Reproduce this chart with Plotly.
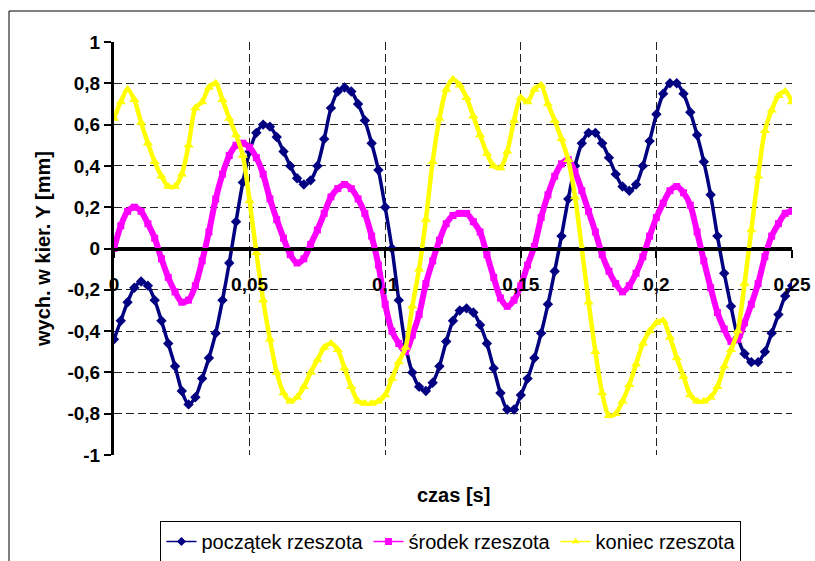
import plotly.graph_objects as go

# time axis (s), sampled every 2.5 ms
t = [round(i * 0.0025, 4) for i in range(101)]

poczatek = [
    -0.44, -0.35, -0.26, -0.19, -0.16, -0.18, -0.25, -0.35, -0.46, -0.57,
    -0.69, -0.755, -0.72, -0.63, -0.53, -0.41, -0.25, -0.07, 0.13, 0.32,
    0.47, 0.56, 0.60, 0.59, 0.54, 0.47, 0.40, 0.34, 0.31, 0.33,
    0.40, 0.53, 0.68, 0.76, 0.78, 0.76, 0.70, 0.62, 0.51, 0.38,
    0.20, 0.00, -0.25, -0.47, -0.60, -0.67, -0.69, -0.65, -0.57, -0.45,
    -0.35, -0.30, -0.29, -0.31, -0.37, -0.46, -0.58, -0.70, -0.78, -0.78,
    -0.71, -0.63, -0.53, -0.41, -0.27, -0.11, 0.06, 0.24, 0.40, 0.51,
    0.56, 0.56, 0.51, 0.44, 0.36, 0.30, 0.28, 0.31, 0.40, 0.52,
    0.65, 0.75, 0.80, 0.80, 0.75, 0.66, 0.55, 0.42, 0.26, 0.06,
    -0.12, -0.28, -0.43, -0.51, -0.55, -0.55, -0.50, -0.41, -0.32, -0.23,
    -0.18,
]

srodek = [
    0.00, 0.11, 0.18, 0.20, 0.18, 0.12, 0.05, -0.05, -0.14, -0.21,
    -0.26, -0.25, -0.18, -0.06, 0.08, 0.24, 0.36, 0.45, 0.50, 0.51,
    0.49, 0.44, 0.36, 0.24, 0.14, 0.05, -0.03, -0.07, -0.05, 0.02,
    0.09, 0.17, 0.25, 0.29, 0.31, 0.29, 0.24, 0.17, 0.06, -0.08,
    -0.27, -0.40, -0.46, -0.50, -0.42, -0.32, -0.17, -0.06, 0.04, 0.12,
    0.16, 0.17, 0.17, 0.13, 0.08, -0.03, -0.14, -0.24, -0.28, -0.25,
    -0.18, -0.08, 0.01, 0.15, 0.26, 0.35, 0.41, 0.43, 0.37, 0.28,
    0.18, 0.08, -0.03, -0.11, -0.17, -0.21, -0.18, -0.12, -0.04, 0.06,
    0.15, 0.22, 0.28, 0.30, 0.27, 0.21, 0.08, -0.06, -0.19, -0.31,
    -0.39, -0.45, -0.44, -0.36, -0.27, -0.17, -0.04, 0.06, 0.12, 0.17,
    0.18,
]

koniec = [
    0.63, 0.71, 0.77, 0.72, 0.61, 0.51, 0.42, 0.35, 0.30, 0.30,
    0.36, 0.50, 0.68, 0.71, 0.78, 0.80, 0.72, 0.63, 0.55, 0.45,
    0.23, -0.02, -0.25, -0.44, -0.60, -0.70, -0.74, -0.72, -0.67, -0.60,
    -0.54, -0.48, -0.46, -0.49, -0.58, -0.67, -0.74, -0.75, -0.75, -0.74,
    -0.71, -0.63, -0.55, -0.48, -0.28, -0.10, 0.14, 0.42, 0.63, 0.77,
    0.82, 0.79, 0.73, 0.64, 0.55, 0.46, 0.40, 0.39, 0.47, 0.62,
    0.73, 0.71, 0.77, 0.79, 0.70, 0.62, 0.53, 0.43, 0.25, 0.00,
    -0.26, -0.50, -0.70, -0.81, -0.80, -0.74, -0.66, -0.56, -0.46, -0.40,
    -0.36, -0.35, -0.43, -0.53, -0.62, -0.71, -0.74, -0.74, -0.72, -0.67,
    -0.57, -0.49, -0.40, -0.17, 0.09, 0.35, 0.57, 0.67, 0.74, 0.76,
    0.71,
]

x_ticks = [0, 0.05, 0.1, 0.15, 0.2, 0.25]
x_ticktext = ["0", "0,05", "0,1", "0,15", "0,2", "0,25"]
y_ticks = [-1, -0.8, -0.6, -0.4, -0.2, 0, 0.2, 0.4, 0.6, 0.8, 1]
y_ticktext = ["-1", "-0,8", "-0,6", "-0,4", "-0,2", "0", "0,2", "0,4", "0,6", "0,8", "1"]

# name, values, colour, marker symbol, marker size, line width in plot
series = [
    ("początek rzeszota", poczatek, "#000080", "diamond", 8, 3.5),
    ("środek rzeszota", srodek, "#FF00FF", "square", 7, 6),
    ("koniec rzeszota", koniec, "#FFFF00", "triangle-up", 9, 4.5),
]

fig = go.Figure()
for name, vals, col, sym, msize, lw in series:
    fig.add_trace(go.Scatter(
        x=t, y=vals, name=name, mode="lines+markers", showlegend=False,
        line=dict(color=col, width=lw, shape="spline", smoothing=0.8),
        marker=dict(symbol=sym, size=msize, color=col, line=dict(width=0)),
    ))
# legend entries (thin line with marker, as in the original legend)
for name, vals, col, sym, msize, lw in series:
    fig.add_trace(go.Scatter(
        x=[None], y=[None], name=name, mode="lines+markers", showlegend=True,
        line=dict(color=col, width=1.5),
        marker=dict(symbol=sym, size=7, color=col, line=dict(width=0)),
    ))

FONT = "Liberation Sans, Arial, sans-serif"
W, H = 815, 561
ml, mr, mt, mb = 114, 23, 42, 106
pw, ph = W - ml - mr, H - mt - mb

def px_x(p):
    return (p - ml) / pw

def px_y(p):
    return (H - mb - p) / ph

fig.update_layout(
    width=W, height=H,
    margin=dict(l=ml, r=mr, t=mt, b=mb, pad=0, autoexpand=False),
    paper_bgcolor="white", plot_bgcolor="white",
    font=dict(family=FONT, color="black"),
    showlegend=True,
    legend=dict(
        orientation="h", x=0.497, xanchor="center", y=px_y(562), yanchor="bottom",
        bordercolor="black", borderwidth=1, bgcolor="white",
        font=dict(family=FONT, size=20, color="black"),
        tracegroupgap=0,
    ),
    xaxis=dict(
        range=[0, 0.25], tickvals=x_ticks, ticktext=x_ticktext,
        anchor="free", position=0.5, automargin=False,
        showline=True, linecolor="black", linewidth=2.5,
        ticks="outside", ticklen=8, tickwidth=2, tickcolor="black",
        ticklabelstandoff=10,
        tickfont=dict(family=FONT, size=19, color="black", weight="bold"),
        showgrid=True, gridcolor="#222222", gridwidth=1, griddash="8px,4px",
        zeroline=False,
    ),
    yaxis=dict(
        range=[-1, 1], tickvals=y_ticks, ticktext=y_ticktext, automargin=False,
        showline=True, linecolor="black", linewidth=3,
        ticks="outside", ticklen=7, tickwidth=2, tickcolor="black",
        ticklabelstandoff=0,
        tickfont=dict(family=FONT, size=19, color="black", weight="bold"),
        showgrid=True, gridcolor="#222222", gridwidth=1, griddash="8px,4px",
        zeroline=True, zerolinecolor="black", zerolinewidth=2.5,
        title=dict(text="wych. w kier. Y [mm]", standoff=12,
                   font=dict(family=FONT, size=20, color="black", weight="bold")),
    ),
    annotations=[dict(
        text="czas [s]", xref="paper", yref="paper",
        x=0.5, y=px_y(495), xanchor="center", yanchor="middle", showarrow=False,
        font=dict(family=FONT, size=20, color="black", weight="bold"),
    )],
    shapes=[
        dict(type="line", xref="paper", yref="paper",
             x0=px_x(9), x1=px_x(9), y0=px_y(11), y1=px_y(600),
             line=dict(color="black", width=1)),
        dict(type="line", xref="paper", yref="paper",
             x0=px_x(9), x1=px_x(900), y0=px_y(11), y1=px_y(11),
             line=dict(color="black", width=1)),
    ],
)

fig.write_html("out.html")
